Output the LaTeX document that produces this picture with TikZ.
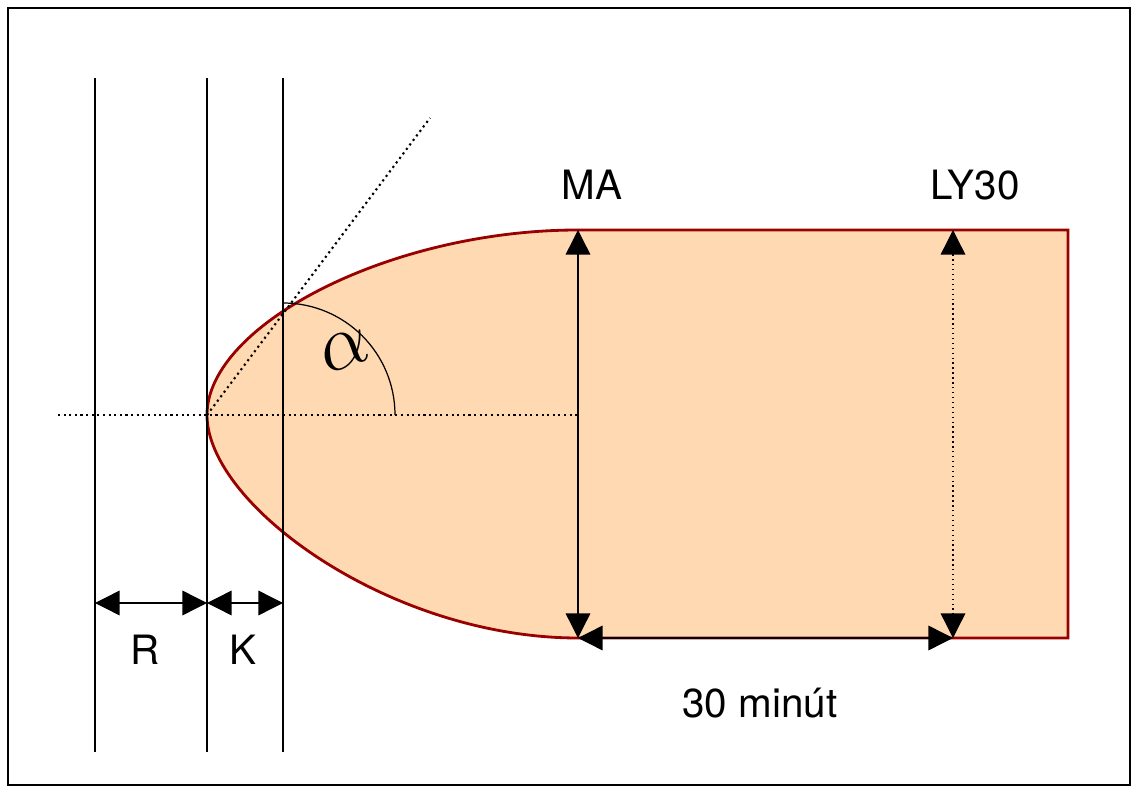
\documentclass[tikz,border=0pt]{standalone}
\usepackage{fontspec}
\setmainfont{TeX Gyre Heros}
\usetikzlibrary{arrows.meta}
\begin{document}
\begin{tikzpicture}[x=0.02cm, y=-0.02cm,
  guide/.style={line width=0.6pt},
  dim/.style={line width=0.8pt, {Triangle[length=14pt,width=14pt]}-{Triangle[length=14pt,width=14pt]}},
  lbl/.style={font=\fontsize{23}{24}\selectfont}]
\useasboundingbox (0,0) rectangle (1140,800);
\draw[line width=1pt] (8,8) rectangle (1130,785);

% body of the curve
\coordinate (V) at (207,415);
\coordinate (MAt) at (578,230);
\coordinate (MAb) at (578,638);
\coordinate (LYt) at (953,230);
\coordinate (LYb) at (953,638);
\filldraw[fill=orange!30!white, draw=red!60!black, line width=1.6pt]
  (V) .. controls (207,325) and (390,230) .. (MAt) -- (1068,230) -- (1068,638) -- (MAb)
  .. controls (390,638) and (207,505) .. (V);

% guide lines
\foreach \x in {95,207,283} \draw[guide] (\x,78) -- (\x,752);
\draw[dotted, line width=1.2pt] (58,415) -- (580,415);
\coordinate (T) at (430,118);
\draw[dotted, line width=1.2pt] (V) -- (T);
\draw[line width=0.7pt] (395,415) arc (0:-90:112) -- (283,303);
\node[scale=1.8, transform shape, rotate=20] (alpha) at (345,350) {\fontsize{24}{24}\selectfont$\alpha$};

% dimensions
\draw[dim] (MAt) -- (MAb);
\draw[dim, dotted] (LYt) -- (LYb);
\draw[dim] (MAb) -- (LYb);
\draw[dim] (95,603) -- (207,603);
\draw[dim] (207,603) -- (283,603);

\node[lbl] (ma) at (592,185) {MA};
\node[lbl] (ly) at (975,185) {LY30};
\node[lbl] (r) at (145,650) {R};
\node[lbl] (k) at (243,650) {K};
\node[lbl] (min) at (760,703) {30 minút};
\end{tikzpicture}
\end{document}
